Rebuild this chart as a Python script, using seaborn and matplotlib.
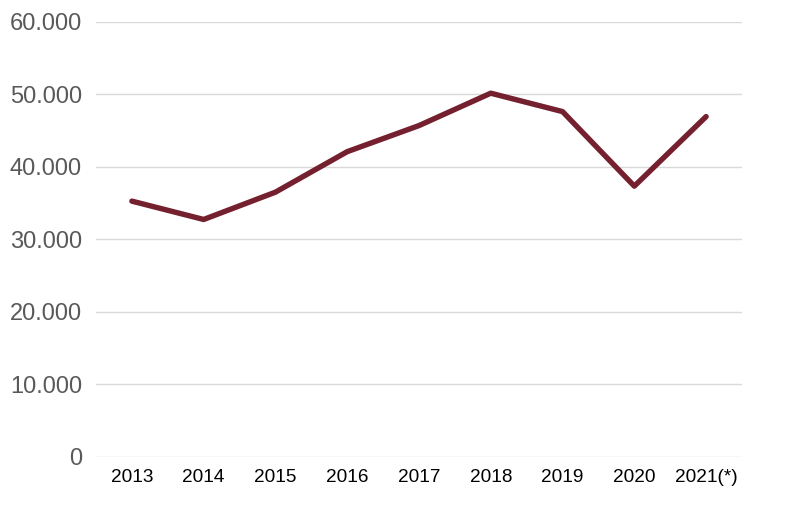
import seaborn as sns
import pandas as pd
import matplotlib.pyplot as plt
from matplotlib.ticker import FuncFormatter, MultipleLocator

years = ["2013", "2014", "2015", "2016", "2017", "2018", "2019", "2020", "2021(*)"]
values = [35270, 32740, 36510, 42100, 45700, 50170, 47630, 37340, 46940]

df = pd.DataFrame({"year": years, "value": values})

sns.set_style("white")
plt.rcParams['font.family'] = ['Liberation Sans', 'DejaVu Sans']

fig = plt.figure(figsize=(7.85, 5.16), dpi=100)
ax = fig.add_axes([0.1223, 0.115, 0.8229, 0.8424])

sns.lineplot(data=df, x="year", y="value", sort=False, color="#74202f",
             linewidth=3.9, ax=ax, zorder=3)
ax.lines[0].set_solid_capstyle("round")
ax.lines[0].set_solid_joinstyle("round")

ax.set_xlim(-0.5, len(years) - 0.5)
ax.set_ylim(0, 60000)
ax.yaxis.set_major_locator(MultipleLocator(10000))
ax.yaxis.set_major_formatter(FuncFormatter(lambda v, p: f"{int(v):,}".replace(",", ".")))
ax.grid(axis="y", color="#d9d9d9", linewidth=1.0)
ax.grid(axis="x", visible=False)
for s in ax.spines.values():
    s.set_visible(False)

ax.tick_params(axis="y", labelsize=17, labelcolor="#595959", length=0, pad=10)
ax.tick_params(axis="x", labelsize=13.7, labelcolor="#000000", length=0, pad=9)
ax.set_xlabel("")
ax.set_ylabel("")

plt.savefig("out.png", dpi=100)
